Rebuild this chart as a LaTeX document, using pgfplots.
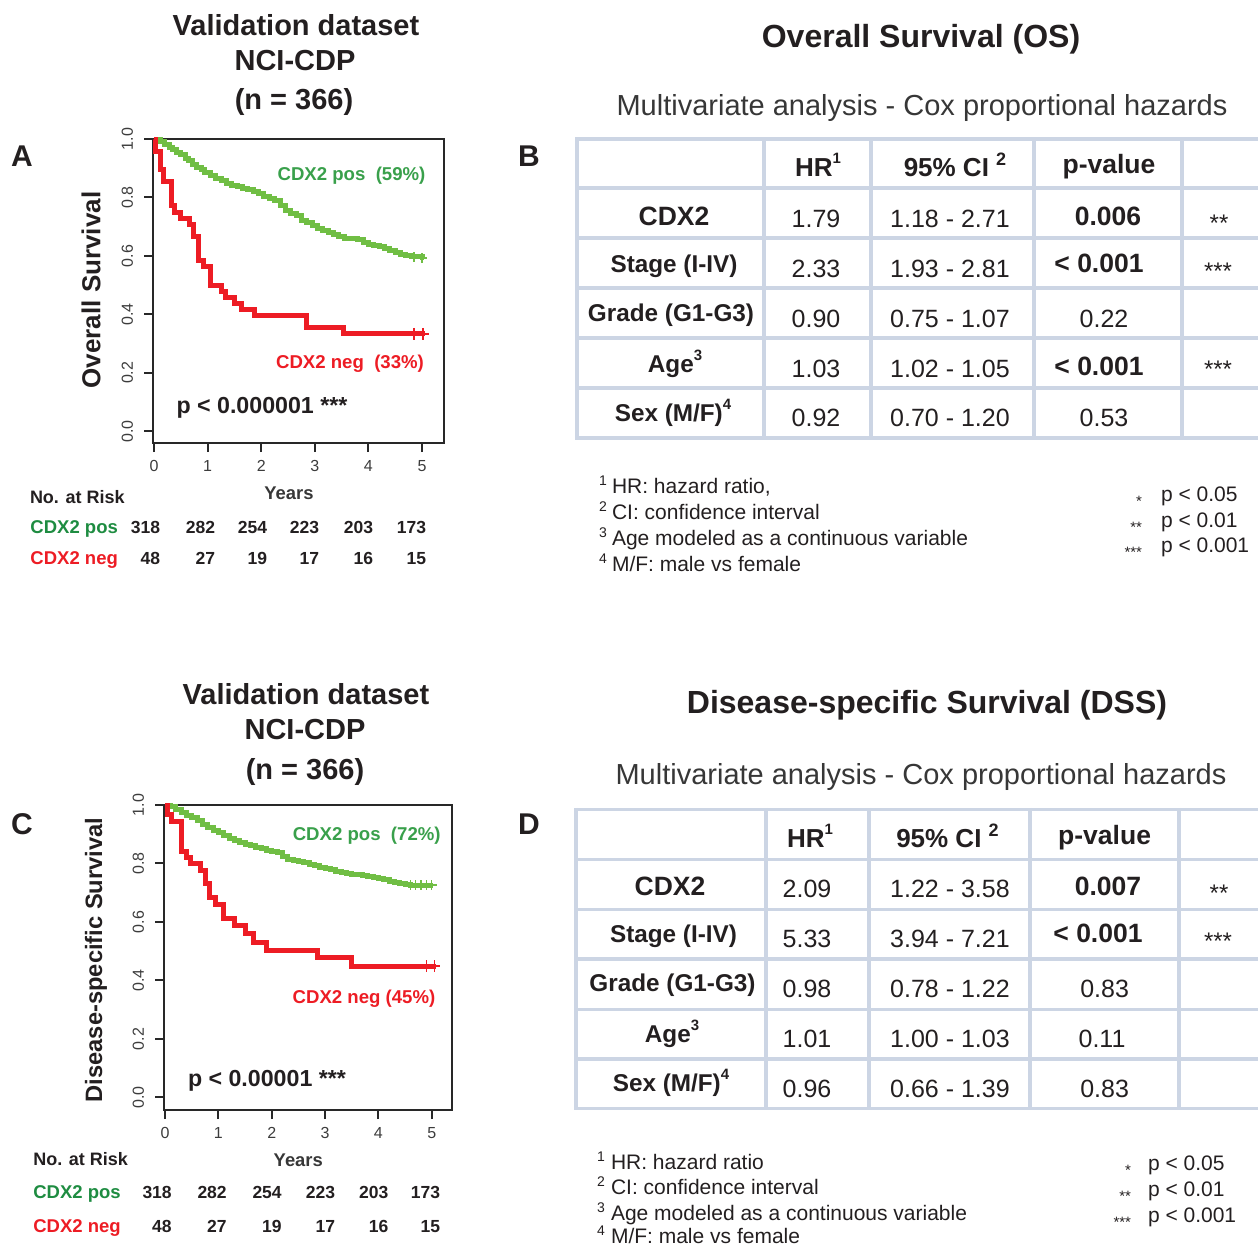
\documentclass[border=0pt]{standalone}
\usepackage{fontspec}
\setmainfont{Liberation Sans}
\usepackage{pgfplots}
\pgfplotsset{compat=1.18}
\definecolor{kmgreen}{RGB}{112,190,68}
\definecolor{lblgreen}{RGB}{57,160,75}
\definecolor{riskgreen}{RGB}{30,140,65}
\definecolor{kmred}{RGB}{237,28,36}
\definecolor{txt}{RGB}{35,31,32}
\definecolor{axisgray}{RGB}{40,40,40}
\definecolor{tickgray}{RGB}{60,60,60}
\definecolor{tabline}{RGB}{204,213,228}
\definecolor{subgray}{RGB}{55,55,55}
\newcommand{\fs}[1]{\fontsize{#1}{#1}\selectfont}
\newcommand{\sups}[1]{\raisebox{0.5em}{\fs{15}#1}}
\pgfplotsset{kmaxis/.style={
  scale only axis, clip=false,
  axis line style={draw=axisgray, line width=2pt},
  xtick={0,1,2,3,4,5}, ytick={0,0.2,0.4,0.6,0.8,1},
  tick align=outside, xtick pos=bottom, ytick pos=left,
  major tick length=9pt, tick style={line width=2pt, draw=axisgray},
  tick label style={inner sep=0pt, font=\fs{16}, text=tickgray},
  /pgf/number format/assume math mode=true,
  yticklabel style={/pgf/number format/.cd, fixed, fixed zerofill, precision=1, /tikz/.cd, rotate=90, anchor=south},
  xticklabel shift=8pt, yticklabel shift=11pt,
}}
\begin{document}
\begin{tikzpicture}[x=1pt,y=1pt]
\path[use as bounding box] (0,0) rectangle (1258,-1247);
\tikzset{every node/.append style={inner sep=0pt, outer sep=0pt}}

% ================= Panel A =================
\begin{axis}[kmaxis, at={(153pt,-443pt)}, anchor=south west,
  width=291pt, height=304pt, xmin=-0.02, xmax=5.41, ymin=-0.04, ymax=1.0]
\addplot[const plot, draw=kmgreen, line width=5pt] coordinates {
(0,1.0)(0.05,0.997)(0.12,0.99)(0.2,0.98)(0.28,0.972)(0.35,0.965)(0.42,0.955)(0.5,0.946)(0.58,0.935)(0.65,0.925)(0.72,0.912)(0.8,0.902)(0.88,0.895)(0.95,0.886)(1.05,0.876)(1.15,0.866)(1.25,0.858)(1.35,0.848)(1.45,0.84)(1.55,0.836)(1.65,0.83)(1.75,0.826)(1.85,0.82)(1.95,0.812)(2.05,0.803)(2.15,0.795)(2.25,0.79)(2.35,0.772)(2.45,0.757)(2.55,0.745)(2.65,0.737)(2.75,0.722)(2.85,0.715)(2.95,0.705)(3.05,0.695)(3.15,0.687)(3.25,0.68)(3.35,0.673)(3.45,0.667)(3.55,0.66)(3.8,0.655)(3.9,0.645)(4.0,0.64)(4.1,0.636)(4.2,0.632)(4.3,0.625)(4.4,0.617)(4.5,0.612)(4.6,0.606)(4.7,0.602)(4.8,0.598)(4.9,0.597)(5.0,0.593)(5.04,0.593)};
\addplot[only marks, mark=+, mark size=5pt, draw=kmgreen, line width=1.5pt] coordinates {(4.85,0.597)(5.0,0.593)};
\addplot[const plot, draw=kmred, line width=5pt] coordinates {
(0,1.0)(0.02,0.957)(0.125,0.895)(0.17,0.855)(0.33,0.771)(0.39,0.75)(0.485,0.729)(0.67,0.708)(0.73,0.667)(0.83,0.583)(0.93,0.5625)(1.05,0.50)(1.26,0.479)(1.34,0.458)(1.51,0.4375)(1.64,0.417)(1.88,0.396)(2.85,0.354)(3.53,0.333)(5.06,0.333)};
\addplot[only marks, mark=+, mark size=6pt, draw=kmred, line width=1.5pt] coordinates {(4.85,0.333)(5.02,0.333)};
\end{axis}

\node[anchor=base, font=\fs{29}\bfseries, text=txt] at (296,-35.7) {Validation dataset};
\node[anchor=base, font=\fs{29}\bfseries, text=txt] at (295,-70.7) {NCI-CDP};
\node[anchor=base, font=\fs{29}\bfseries, text=txt] at (294,-110) {(n = 366)};
\node[anchor=base west, font=\fs{30}\bfseries, text=txt] at (11,-166) {A};
\node[rotate=90, font=\fs{26}\bfseries, text=txt] at (91,-290) {Overall Survival};
\node[anchor=base, font=\fs{18.6}\bfseries, text=lblgreen] at (351.5,-180.5) {CDX2 pos\ \ (59\%)};
\node[anchor=base, font=\fs{18.6}\bfseries, text=kmred] at (350,-368) {CDX2 neg\ \ (33\%)};
\node[anchor=base, font=\fs{23.2}\bfseries, text=txt] at (262,-413.5) {p < 0.000001 ***};
\node[anchor=base, font=\fs{18.4}\bfseries, text=subgray] at (289,-499.3) {Years};
\node[anchor=base west, font=\fs{18}\bfseries, text=txt] at (30,-503.3) {No. at Risk};
\node[anchor=base west, font=\fs{18.5}\bfseries, text=riskgreen] at (30.5,-533.3) {CDX2 pos};
\node[anchor=base west, font=\fs{18.5}\bfseries, text=kmred] at (30.5,-564.5) {CDX2 neg};
\foreach \xx/\vp/\vn in {160/318/48, 215/282/27, 267/254/19, 319/223/17, 373/203/16, 426/173/15} {
  \node[anchor=base east, font=\fs{17.5}\bfseries, text=txt] at (\xx,-533.3) {\vp};
  \node[anchor=base east, font=\fs{17.5}\bfseries, text=txt] at (\xx,-564.5) {\vn};
}

% ================= Panel B =================
\node[anchor=base, font=\fs{32}\bfseries, text=txt] at (921,-48) {Overall Survival (OS)};
\node[anchor=base, font=\fs{29}, text=subgray] at (922,-115.5) {Multivariate analysis - Cox proportional hazards};
\node[anchor=base, font=\fs{30}\bfseries, text=txt] at (529,-166) {B};
\begin{scope}[draw=tabline, line width=3.5pt]
\foreach \yy in {139,188,238,288,338,388,438} \draw (577,-\yy) -- (1258,-\yy);
\foreach \xx in {577,764,871,1034,1182} \draw (\xx,-137.3) -- (\xx,-439.7);
\end{scope}
\node[anchor=base, font=\fs{26}\bfseries, text=txt] at (818,-176.7) {HR\sups{1}};
\node[anchor=base, font=\fs{26}\bfseries, text=txt] at (955,-176.7) {95\% CI \raisebox{0.42em}{\fs{18}2}};
\node[anchor=base, font=\fs{26.5}\bfseries, text=txt] at (1109,-173.3) {p-value};
% rows
\node[anchor=base, font=\fs{26.5}\bfseries, text=txt] at (674,-225) {CDX2};
\node[anchor=base, font=\fs{24.3}\bfseries, text=txt] at (674,-272.7) {Stage (I-IV)};
\node[anchor=base, font=\fs{24.3}\bfseries, text=txt] at (671,-321) {Grade (G1-G3)};
\node[anchor=base, font=\fs{24.3}\bfseries, text=txt] at (675,-372.7) {Age\sups{3}};
\node[anchor=base, font=\fs{24.3}\bfseries, text=txt] at (673,-421.7) {Sex (M/F)\sups{4}};
\foreach \yy/\hr/\ci in {227.3/1.79/1.18 - 2.71, 277.3/2.33/1.93 - 2.81, 327.3/0.90/0.75 - 1.07, 377.3/1.03/1.02 - 1.05, 426.7/0.92/0.70 - 1.20} {
  \node[anchor=base, font=\fs{25}, text=txt] at (816,-\yy) {\hr};
  \node[anchor=base, font=\fs{25}, text=txt] at (950,-\yy) {\ci};
}
\node[anchor=base, font=\fs{26.5}\bfseries, text=txt] at (1108,-225.5) {0.006};
\node[anchor=base, font=\fs{26.5}\bfseries, text=txt] at (1099,-272) {< 0.001};
\node[anchor=base, font=\fs{25}, text=txt] at (1104,-327.3) {0.22};
\node[anchor=base, font=\fs{26.5}\bfseries, text=txt] at (1099,-375) {< 0.001};
\node[anchor=base, font=\fs{25}, text=txt] at (1104,-426.7) {0.53};
\node[anchor=base, font=\fs{24}, text=txt] at (1219,-231) {**};
\node[anchor=base, font=\fs{24}, text=txt] at (1218,-279) {***};
\node[anchor=base, font=\fs{24}, text=txt] at (1218,-377) {***};
% footnotes
\foreach \yy/\n/\t in {493.5/1/{HR: hazard ratio,}, 519.5/2/{CI: confidence interval}, 545.5/3/{Age modeled as a continuous variable}, 571/4/{M/F: male vs female}} {
  \node[anchor=base west, font=\fs{14}, text=txt] at (599,-\yy+8) {\n};
  \node[anchor=base west, font=\fs{21}, text=txt] at (612,-\yy) {\t};
}
\foreach \yy/\s/\t in {501.5/*/p < 0.05, 527.5/**/p < 0.01, 552.5/***/p < 0.001} {
  \node[anchor=base east, font=\fs{15}, text=txt] at (1142,-\yy-5) {\s};
  \node[anchor=base west, font=\fs{21}, text=txt] at (1161,-\yy) {\t};
}

% ================= Panel C =================
\begin{axis}[kmaxis, at={(164pt,-1110pt)}, anchor=south west,
  width=288pt, height=305pt, xmin=-0.02, xmax=5.38, ymin=-0.043, ymax=1.0]
\addplot[const plot, draw=kmgreen, line width=5pt] coordinates {
(0,1.0)(0.1,0.995)(0.2,0.985)(0.3,0.975)(0.4,0.965)(0.5,0.956)(0.6,0.946)(0.7,0.935)(0.8,0.924)(0.9,0.914)(1.0,0.905)(1.1,0.895)(1.2,0.887)(1.3,0.879)(1.4,0.872)(1.5,0.865)(1.6,0.86)(1.7,0.855)(1.8,0.85)(1.9,0.845)(2.0,0.842)(2.1,0.837)(2.2,0.825)(2.3,0.815)(2.4,0.81)(2.5,0.806)(2.6,0.802)(2.7,0.797)(2.8,0.793)(2.9,0.787)(3.0,0.782)(3.1,0.778)(3.2,0.774)(3.3,0.77)(3.4,0.766)(3.5,0.763)(3.6,0.761)(3.7,0.759)(3.8,0.756)(3.9,0.752)(4.0,0.748)(4.1,0.744)(4.2,0.74)(4.3,0.736)(4.4,0.731)(4.5,0.727)(4.6,0.726)(5.03,0.726)};
\addplot[only marks, mark=+, mark size=5pt, draw=kmgreen, line width=1.5pt] coordinates {(4.6,0.726)(4.7,0.726)(4.8,0.726)(4.9,0.726)(5.0,0.726)};
\addplot[const plot, draw=kmred, line width=5pt] coordinates {
(0,1.0)(0.04,0.966)(0.125,0.943)(0.31,0.84)(0.41,0.821)(0.47,0.80)(0.66,0.776)(0.75,0.73)(0.84,0.684)(0.94,0.66)(1.09,0.612)(1.31,0.588)(1.5,0.559)(1.66,0.53)(1.91,0.504)(2.85,0.478)(3.5,0.449)(5.08,0.449)};
\addplot[only marks, mark=+, mark size=6pt, draw=kmred, line width=1.5pt] coordinates {(4.9,0.449)(5.05,0.449)};
\end{axis}

\node[anchor=base, font=\fs{29}\bfseries, text=txt] at (306,-704.7) {Validation dataset};
\node[anchor=base, font=\fs{29}\bfseries, text=txt] at (305,-739.7) {NCI-CDP};
\node[anchor=base, font=\fs{29}\bfseries, text=txt] at (305,-779.5) {(n = 366)};
\node[anchor=base west, font=\fs{30}\bfseries, text=txt] at (11,-834) {C};
\node[rotate=90, font=\fs{23.7}\bfseries, text=txt] at (96,-960) {Disease-specific Survival};
\node[anchor=base, font=\fs{18.6}\bfseries, text=lblgreen] at (366.7,-840.7) {CDX2 pos\ \ (72\%)};
\node[anchor=base, font=\fs{18.6}\bfseries, text=kmred] at (364,-1003.3) {CDX2 neg (45\%)};
\node[anchor=base, font=\fs{23.2}\bfseries, text=txt] at (267,-1086) {p < 0.00001 ***};
\node[anchor=base, font=\fs{18.4}\bfseries, text=subgray] at (298.3,-1166) {Years};
\node[anchor=base west, font=\fs{18}\bfseries, text=txt] at (33.3,-1165) {No. at Risk};
\node[anchor=base west, font=\fs{18.5}\bfseries, text=riskgreen] at (33.3,-1198.3) {CDX2 pos};
\node[anchor=base west, font=\fs{18.5}\bfseries, text=kmred] at (33.3,-1232.5) {CDX2 neg};
\foreach \xx/\vp/\vn in {171.7/318/48, 226.7/282/27, 281.7/254/19, 335/223/17, 388.3/203/16, 440/173/15} {
  \node[anchor=base east, font=\fs{17.5}\bfseries, text=txt] at (\xx,-1198.3) {\vp};
  \node[anchor=base east, font=\fs{17.5}\bfseries, text=txt] at (\xx,-1232.5) {\vn};
}

% ================= Panel D =================
\node[anchor=base, font=\fs{32}\bfseries, text=txt] at (927,-713) {Disease-specific Survival (DSS)};
\node[anchor=base, font=\fs{29}, text=subgray] at (921,-784.5) {Multivariate analysis - Cox proportional hazards};
\node[anchor=base, font=\fs{30}\bfseries, text=txt] at (529,-834) {D};
\begin{scope}[draw=tabline, line width=3.5pt]
\foreach \yy in {809.5,859.3,909.3,958.8,1009.3,1058.8,1108.5} \draw (576,-\yy) -- (1258,-\yy);
\foreach \xx in {576,766,869,1030,1179} \draw (\xx,-807.8) -- (\xx,-1110.2);
\end{scope}
\node[anchor=base, font=\fs{26}\bfseries, text=txt] at (810,-847.5) {HR\sups{1}};
\node[anchor=base, font=\fs{26}\bfseries, text=txt] at (947.5,-847.5) {95\% CI \raisebox{0.42em}{\fs{18}2}};
\node[anchor=base, font=\fs{26.5}\bfseries, text=txt] at (1104.6,-844) {p-value};
\node[anchor=base, font=\fs{26.5}\bfseries, text=txt] at (670,-895) {CDX2};
\node[anchor=base, font=\fs{24.3}\bfseries, text=txt] at (673.5,-942.7) {Stage (I-IV)};
\node[anchor=base, font=\fs{24.3}\bfseries, text=txt] at (672.5,-991) {Grade (G1-G3)};
\node[anchor=base, font=\fs{24.3}\bfseries, text=txt] at (672,-1042.7) {Age\sups{3}};
\node[anchor=base, font=\fs{24.3}\bfseries, text=txt] at (671,-1091.7) {Sex (M/F)\sups{4}};
\foreach \yy/\hr/\ci in {897.3/2.09/1.22 - 3.58, 947.3/5.33/3.94 - 7.21, 997.3/0.98/0.78 - 1.22, 1047.3/1.01/1.00 - 1.03, 1097/0.96/0.66 - 1.39} {
  \node[anchor=base, font=\fs{25}, text=txt] at (807,-\yy) {\hr};
  \node[anchor=base, font=\fs{25}, text=txt] at (950,-\yy) {\ci};
}
\node[anchor=base, font=\fs{26.5}\bfseries, text=txt] at (1108,-895.5) {0.007};
\node[anchor=base, font=\fs{26.5}\bfseries, text=txt] at (1098,-942) {< 0.001};
\node[anchor=base, font=\fs{25}, text=txt] at (1104.6,-997.3) {0.83};
\node[anchor=base, font=\fs{25}, text=txt] at (1102,-1047.3) {0.11};
\node[anchor=base, font=\fs{25}, text=txt] at (1104.6,-1097) {0.83};
\node[anchor=base, font=\fs{24}, text=txt] at (1219,-901) {**};
\node[anchor=base, font=\fs{24}, text=txt] at (1218,-949) {***};
\foreach \yy/\n/\t in {1169/1/{HR: hazard ratio}, 1194.5/2/{CI: confidence interval}, 1220/3/{Age modeled as a continuous variable}, 1243/4/{M/F: male vs female}} {
  \node[anchor=base west, font=\fs{14}, text=txt] at (597,-\yy+8) {\n};
  \node[anchor=base west, font=\fs{21}, text=txt] at (611,-\yy) {\t};
}
\foreach \yy/\s/\t in {1170.5/*/p < 0.05, 1196.5/**/p < 0.01, 1222.5/***/p < 0.001} {
  \node[anchor=base east, font=\fs{15}, text=txt] at (1131,-\yy-5) {\s};
  \node[anchor=base west, font=\fs{21}, text=txt] at (1148,-\yy) {\t};
}
\end{tikzpicture}
\end{document}
